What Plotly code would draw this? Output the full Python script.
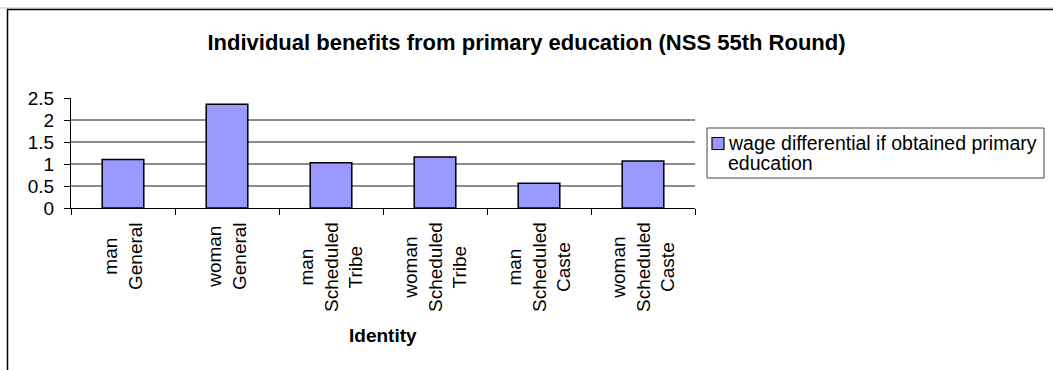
import textwrap
import plotly.graph_objects as go

# ---- data ----
categories = [
    "man General",
    "woman General",
    "man Scheduled Tribe",
    "woman Scheduled Tribe",
    "man Scheduled Caste",
    "woman Scheduled Caste",
]
wage_differential = [1.10, 2.36, 1.03, 1.16, 0.56, 1.07]
series_name = "wage differential if obtained primary education"
chart_title = "Individual benefits from primary education (NSS 55th Round)"
x_title = "Identity"
y_ticks = [0, 0.5, 1, 1.5, 2, 2.5]

# ---- layout geometry (pixels) ----
FIG_W, FIG_H = 1053, 370
PL, PR, PT, PB = 71, 695, 98, 208
PW, PH = PR - PL, PB - PT


def xp(px):
    return (px - PL) / PW


def yp(py):
    return (PB - py) / PH


FONT = "Liberation Sans, Arial, sans-serif"
BAR_FILL = "#9999FF"

fig = go.Figure()
fig.add_trace(
    go.Bar(
        x=categories,
        y=wage_differential,
        name=series_name,
        marker=dict(color=BAR_FILL, line=dict(color="black", width=1.5)),
        width=0.4,
        showlegend=False,
    )
)

annotations = []
# rotated, word-per-line category labels
for cat in categories:
    annotations.append(
        dict(
            x=cat, xref="x", y=0, yref="paper",
            text="<br>".join(cat.split()),
            textangle=-90, align="center",
            xanchor="center", yanchor="top", yshift=-12,
            showarrow=False,
            font=dict(family=FONT, size=19, color="black"),
        )
    )
# axis title
annotations.append(
    dict(
        x=0.5, xref="paper", y=yp(335), yref="paper",
        text=f"<b>{x_title}</b>", showarrow=False,
        xanchor="center", yanchor="middle",
        font=dict(family=FONT, size=19, color="black"),
    )
)
# legend text
legend_lines = textwrap.wrap(series_name, 37)
for i, line in enumerate(legend_lines):
    annotations.append(
        dict(
            x=xp(726), xref="paper", y=yp(143 + 20 * i), yref="paper",
            text=line, showarrow=False,
            xanchor="left", yanchor="middle",
            font=dict(family=FONT, size=19.5, color="black"),
        )
    )

shapes = [
    # chart frame
    dict(type="line", xref="paper", yref="paper",
         x0=xp(0), x1=xp(FIG_W + 5), y0=yp(8), y1=yp(8),
         line=dict(color="#c8c8c8", width=1)),
    dict(type="rect", xref="paper", yref="paper",
         x0=xp(7.5), x1=xp(FIG_W + 20), y0=yp(9.5), y1=yp(FIG_H + 20),
         line=dict(color="black", width=1.5)),
    # legend box and key
    dict(type="rect", xref="paper", yref="paper",
         x0=xp(707), x1=xp(1044), y0=yp(128), y1=yp(178),
         line=dict(color="#444444", width=1)),
    dict(type="rect", xref="paper", yref="paper",
         x0=xp(712), x1=xp(724), y0=yp(137.5), y1=yp(149.5),
         fillcolor=BAR_FILL, line=dict(color="black", width=1.2)),
]
# horizontal gridlines at the inner ticks (none along the top edge)
for level in y_ticks[1:-1]:
    shapes.append(
        dict(type="line", xref="paper", yref="y", layer="below",
             x0=0, x1=1, y0=level, y1=level,
             line=dict(color="#1a1a1a", width=1))
    )

fig.update_layout(
    width=FIG_W, height=FIG_H,
    margin=dict(l=PL, r=FIG_W - PR, t=PT, b=FIG_H - PB, autoexpand=False),
    paper_bgcolor="white", plot_bgcolor="white",
    bargap=0.6,
    font=dict(family=FONT, color="black"),
    title=dict(
        text=f"<b>{chart_title}</b>",
        x=0.5, xref="container", xanchor="center",
        y=1 - 42 / FIG_H, yref="container", yanchor="middle",
        font=dict(family=FONT, size=22, color="black"),
    ),
    xaxis=dict(
        type="category", range=[-0.5, len(categories) - 0.5],
        showline=True, linecolor="black", linewidth=1,
        ticks="outside", tickson="boundaries", ticklen=6,
        tickcolor="black", showticklabels=False, showgrid=False,
    ),
    yaxis=dict(
        range=[0, 2.5], tickvals=y_ticks,
        showline=True, linecolor="black", linewidth=1,
        ticks="outside", ticklen=6, tickcolor="black",
        showgrid=False, zeroline=False,
        ticklabelstandoff=6,
        tickfont=dict(family=FONT, size=19, color="black"),
    ),
    annotations=annotations,
    shapes=shapes,
    showlegend=False,
)

fig.write_html("out.html")
